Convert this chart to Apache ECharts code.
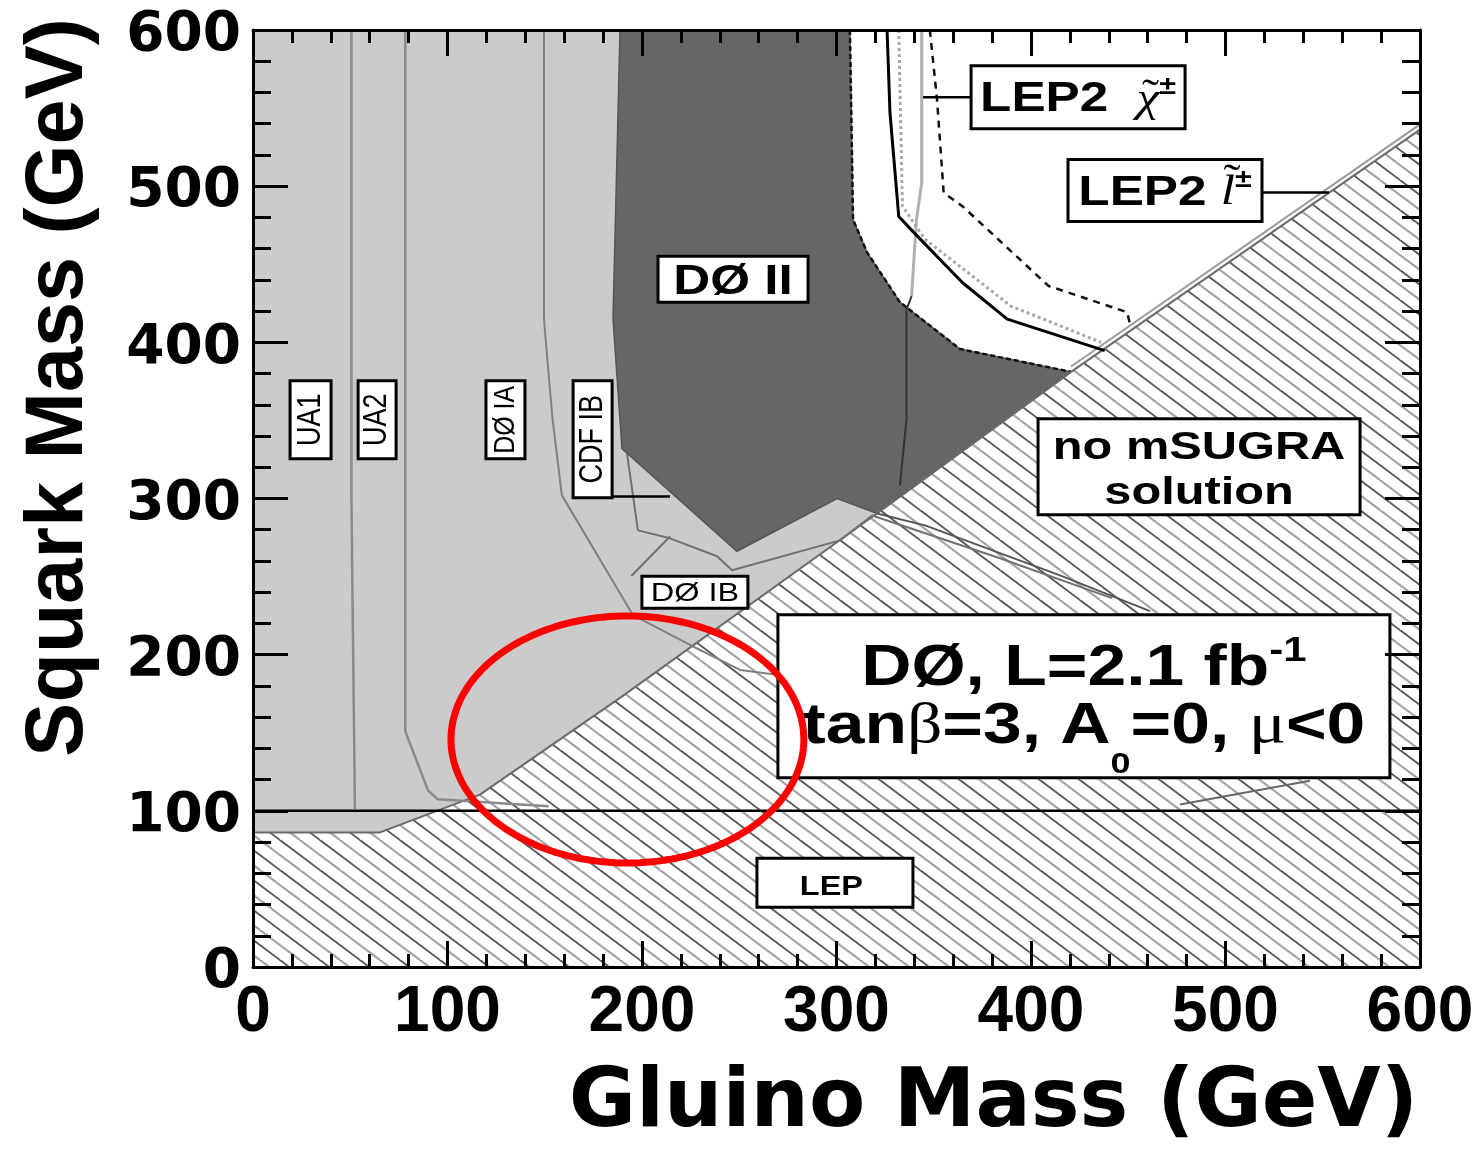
<!DOCTYPE html>
<html>
<head>
<meta charset="utf-8">
<title>mSUGRA squark-gluino mass limits</title>
<script src="https://cdn.jsdelivr.net/npm/echarts@6.0.0/dist/echarts.min.js"></script>
<style>
html,body{margin:0;padding:0;background:#ffffff;}
#chart{width:1481px;height:1151px;}
</style>
</head>
<body>
<div id="chart"></div>
<script>
// ================= DATA (GeV) =================
const gluinoTicks = [0, 100, 200, 300, 400, 500, 600];
const squarkTicks = [0, 100, 200, 300, 400, 500, 600];

// Light grey: region excluded by earlier experiments
const priorExclGluino = [0, 0, 65.3, 116.7, 188.7, 320.8, 250.0, 188.7];
const priorExclSquark = [600, 86.2, 86.2, 110.4, 172.3, 290.4, 450.0, 600];

// Dark grey: DØ Run II exclusion
const d0RunIIGluino = [188.7, 306.9, 308.5, 315.7, 332.6, 363.5, 420.6, 320.8, 300.3, 248.8, 189.7, 185.1];
const d0RunIISquark = [600, 600, 478.7, 457.6, 425.7, 395.7, 381.1, 290.4, 300.0, 266.2, 331.9, 414.9];

// Hatched: no mSUGRA solution / LEP
const noSolutionGluino = [0, 0, 65.3, 116.7, 188.7, 320.8, 420.6, 600, 600];
const noSolutionSquark = [0, 86.2, 86.2, 110.4, 172.3, 290.4, 381.1, 536.2, 0];
const noSolEdgeGluino = [0, 65.3, 116.7, 188.7, 320.8, 420.6, 600];
const noSolEdgeSquark = [86.2, 86.2, 110.4, 172.3, 290.4, 381.1, 536.2];

// LEP2 slepton limit (parallel to the boundary)
const lep2SleptonGluino = [420.6, 600];
const lep2SleptonSquark = [384.5, 539.6];

// Older contours
const ua1Gluino = [50.6, 50.6, 52.4];
const ua1Squark = [600, 300, 101];
const ua2Gluino = [78.3, 78.3, 90.0, 95.0, 152.0];
const ua2Squark = [600, 151.0, 113.0, 107.4, 103.0];
const d0IAGluino = [149.6, 149.6, 151.0, 154.0, 158.8, 195.4, 224.7, 250.4, 270.4];
const d0IASquark = [600, 415.0, 394.0, 351.0, 302.0, 225.3, 206.2, 190.2, 187.0];
const cdfIBGluino = [192.3, 197.9, 214.4, 238.6, 246.3, 301.8, 318.3, 384.1, 441.6];
const cdfIBSquark = [328.7, 279.6, 274.5, 263.0, 254.0, 273.2, 289.1, 261.7, 236.2];
const d0IBGluino = [320.8, 345.5, 414.9, 461.2];
const d0IBSquark = [290.4, 282.8, 250.8, 227.9];
const lowContourGluino = [476.6, 543.4];
const lowContourSquark = [104.0, 119.3];

// LEP2 chargino limits
const lep2CharSolidGluino = [326.0, 327.5, 332.0, 339.7, 364.7, 387.8, 437.9];
const lep2CharSolidSquark = [600, 547.0, 480.6, 470.4, 438.3, 414.9, 394.7];
const lep2CharDotGluino = [332.0, 333.9, 345.5, 389.7, 436.0];
const lep2CharDotSquark = [600, 487.2, 466.0, 423.2, 400.0];
const lep2CharDashGluino = [348.0, 351.7, 355.1, 364.7, 409.0, 449.4, 450.9];
const lep2CharDashSquark = [600, 555.3, 495.7, 487.2, 436.1, 419.3, 411.7];
const lep2GreyGluino = [343.8, 343.8, 341.1, 338.6];
const lep2GreySquark = [600, 502.0, 478.7, 429.6];
const lep2GreyDarkGluino = [338.6, 336.0, 336.0, 332.6];
const lep2GreyDarkSquark = [429.6, 421.0, 351.0, 308.3];

// LEP squark limit
const lepLimitGluino = [0, 600];
const lepLimitSquark = [100, 100];

// Label connectors
const cdfConnGluino = [184.6, 214.4];
const cdfConnSquark = [301.3, 301.3];
const d0IBArrowGluino = [194.5, 214.4];
const d0IBArrowSquark = [250.4, 275.7];
const lep2CharConnGluino = [344.5, 369.2];
const lep2CharConnSquark = [557.0, 557.0];
const lep2SlepConnGluino = [518.8, 553.2];
const lep2SlepConnSquark = [496.0, 496.0];

// Red highlight ellipse (centre and half-axes, GeV)
const highlightCenter = [192.5, 145.7];
const highlightRadius = [90.7, 79.1];

// Labels (anchor = box centre, GeV)
// markup: {^x} superscript, {_x} subscript, {~x} symbol, {*x} italic, {=x} accent over previous, {+x} raised accent
const labelTexts = ['UA1', 'UA2', 'DØ IA', 'CDF IB', 'DØ IB', 'DØ II',
  'LEP2  {*χ}{=˜}{^±}', 'LEP2 {*l}{+˜}{^±}', 'no mSUGRA\nsolution', 'LEP',
  'DØ, L=2.1 fb{^-1}\ntan{~β}=3, A{_0}=0, {~μ}<0'];
const labelGluino = [29.6, 63.8, 129.8, 174.6, 227.2, 246.8, 424.2, 468.9, 486.4, 299.2, 427.2];
const labelSquark = [350.4, 350.4, 350.4, 337.9, 240.0, 440.4, 556.9, 497.2, 320.4, 53.9, 173.3];

// ================= STYLE =================
const FAM = "'Liberation Sans', Arial, sans-serif";
const SERIF = "'Liberation Serif', 'DejaVu Serif', serif";
const labelStyles = [
  {w: 78, h: 41, rot: 90, size: 27, weight: 'normal', sx: 1, sy: 1.2},
  {w: 78, h: 38, rot: 90, size: 27, weight: 'normal', sx: 1, sy: 1.2},
  {w: 78, h: 39, rot: 90, size: 25, weight: 'normal', sx: 1, sy: 1.2},
  {w: 117, h: 39, rot: 90, size: 27, weight: 'normal', sx: 1, sy: 1.2},
  {w: 106, h: 32, size: 26, weight: 'normal', sx: 1.25, dy: 2},
  {w: 150, h: 46, size: 42, weight: 'bold', sx: 1.22, dy: 3},
  {w: 214, h: 63, size: 42, weight: 'bold', sx: 1.22, dy: 2.5},
  {w: 194, h: 62, size: 42, weight: 'bold', sx: 1.22, dy: 2.5},
  {w: 322, h: 96, size: 39, weight: 'bold', sx: 1.25, lh: 45, dy: 4},
  {w: 156, h: 49, size: 28, weight: 'bold', sx: 1.16, dy: 4.5, dx: -3.5},
  {w: 612, h: 163, size: 58, weight: 'bold', sx: 1.2, lh: 57.5, dy: 1.75}
];

function zip(xs, ys) { return xs.map((x, i) => [x, ys[i]]); }

function makeHatch() {
  const c = document.createElement('canvas');
  c.width = 40; c.height = 30;
  const g = c.getContext('2d');
  g.fillStyle = '#ffffff';
  g.fillRect(0, 0, 40, 30);
  const fam = (x0, color, w) => {
    g.strokeStyle = color; g.lineWidth = w;
    for (let k = -2; k <= 2; k++) {
      g.beginPath();
      g.moveTo(x0 + 40 * k - 40, -30);
      g.lineTo(x0 + 40 * k + 40, 30);
      g.stroke();
    }
  };
  fam(0, '#555555', 1.8);
  fam(20, '#a6a6a6', 2.2);
  return c;
}
const hatchCanvas = makeHatch();

function polygonSeries(name, xs, ys, style, z) {
  return {
    type: 'custom', name, z, silent: true, animation: false,
    data: zip(xs, ys),
    renderItem: function (params, api) {
      if (params.dataIndex !== 0) return null;
      const pts = xs.map((x, i) => api.coord([x, ys[i]]));
      return {type: 'polygon', shape: {points: pts}, style: style};
    }
  };
}

function lineSeries(name, xs, ys, color, width, type, z) {
  return {
    type: 'line', name, data: zip(xs, ys), symbol: 'none', silent: true,
    animation: false, z: z || 4,
    lineStyle: {color: color, width: width, type: type || 'solid'}
  };
}

const mctx = document.createElement('canvas').getContext('2d');
function parseRuns(line) {
  const runs = []; const re = /\{([\^_~*=+])([^}]*)\}/g; let last = 0, m;
  while ((m = re.exec(line))) {
    if (m.index > last) runs.push({k: 'n', t: line.slice(last, m.index)});
    runs.push({k: m[1], t: m[2]});
    last = re.lastIndex;
  }
  if (last < line.length) runs.push({k: 'n', t: line.slice(last)});
  return runs;
}
function runFont(st, k) {
  const b = st.size;
  if (k === '^') return {font: st.weight + ' ' + Math.round(b * 0.6) + 'px ' + FAM, dy: -0.311 * b};
  if (k === '_') return {font: st.weight + ' ' + Math.round(b * 0.52) + 'px ' + FAM, dy: 0.647 * b};
  if (k === '~') return {font: 'normal ' + b + 'px ' + SERIF, dy: 0};
  if (k === '*') return {font: 'italic normal ' + b + 'px ' + SERIF, dy: 0};
  if (k === '=') return {font: 'normal ' + b + 'px ' + SERIF, dy: -0.06 * b, accent: true, shift: 0.06 * b};
  if (k === '+') return {font: 'normal ' + b + 'px ' + SERIF, dy: -0.26 * b, accent: true, shift: 0.1 * b};
  return {font: st.weight + ' ' + b + 'px ' + FAM, dy: 0};
}
function buildText(text, st) {
  const lines = text.split('\n');
  const n = lines.length;
  const out = [];
  lines.forEach((ln, li) => {
    const runs = parseRuns(ln).map(r => {
      const f = runFont(st, r.k);
      mctx.font = f.font;
      return {t: r.t, font: f.font, dy: f.dy, accent: !!f.accent, shift: f.shift || 0,
        w: mctx.measureText(r.t).width * st.sx};
    });
    const W = runs.reduce((a, r) => a + (r.accent ? 0 : r.w), 0);
    let x = -W / 2 + (st.dx || 0);
    let prevX = x, prevW = 0;
    const yc = (li - (n - 1) / 2) * (st.lh || 0) + (st.dy || 0);
    runs.forEach(r => {
      let px = x;
      if (r.accent) px = prevX + prevW / 2 - r.w / 2 + r.shift;
      out.push({
        type: 'text', x: px, y: yc + r.dy, scaleX: st.sx, scaleY: st.sy || 1,
        style: {text: r.t, font: r.font, fill: '#000', align: 'left', verticalAlign: 'middle'}
      });
      if (!r.accent) { prevX = x; prevW = r.w; x += r.w; }
    });
  });
  return out;
}

const tickStyle = {color: '#000', width: 3};
function xAxisCfg(pos, showLabel) {
  return {
    type: 'value', position: pos, min: gluinoTicks[0], max: gluinoTicks[gluinoTicks.length - 1],
    interval: gluinoTicks[1] - gluinoTicks[0], z: 10,
    axisLine: {show: true, onZero: false, lineStyle: {color: '#000', width: 3}},
    axisTick: {show: true, inside: true, length: 26, lineStyle: tickStyle},
    minorTick: {show: true, splitNumber: 5, length: 13, lineStyle: tickStyle},
    splitLine: {show: false}, minorSplitLine: {show: false},
    axisLabel: {show: showLabel, fontFamily: FAM, fontWeight: 'bold', fontSize: 64, color: '#000', margin: 14},
    name: showLabel ? 'Gluino Mass (GeV)' : '',
    nameLocation: 'middle', nameGap: 97,
    nameTextStyle: {fontFamily: "'DejaVu Sans'", fontWeight: 'bold', fontSize: 82, color: '#000', padding: [0, 0, 0, 314]}
  };
}
function yAxisCfg(pos, showLabel) {
  return {
    type: 'value', position: pos, min: squarkTicks[0], max: squarkTicks[squarkTicks.length - 1],
    interval: squarkTicks[1] - squarkTicks[0], z: 10,
    axisLine: {show: true, onZero: false, lineStyle: {color: '#000', width: 3}},
    axisTick: {show: true, inside: true, length: 35, lineStyle: tickStyle},
    minorTick: {show: true, splitNumber: 5, length: 18, lineStyle: tickStyle},
    splitLine: {show: false}, minorSplitLine: {show: false},
    axisLabel: {show: showLabel, fontFamily: "'DejaVu Sans'", fontWeight: 'bold', fontSize: 55, color: '#000', margin: 12,
      verticalAlign: 'top', lineHeight: 12},
    name: showLabel ? 'Squark Mass (GeV)' : '',
    nameLocation: 'middle', nameGap: 153,
    nameTextStyle: {fontFamily: FAM, fontWeight: 'bold', fontSize: 81, color: '#000', padding: [0, 0, 0, 222]}
  };
}

const series = [
  polygonSeries('Earlier exclusions', priorExclGluino, priorExclSquark, {fill: '#cbcbcb'}, 1),
  polygonSeries('No mSUGRA solution', noSolutionGluino, noSolutionSquark, {fill: {image: hatchCanvas, repeat: 'repeat'}}, 2),
  polygonSeries('DØ Run II', d0RunIIGluino, d0RunIISquark, {fill: '#666666', stroke: '#555555', lineWidth: 1.5}, 3),
  lineSeries('DØ II edge', d0RunIIGluino.slice(1, 7), d0RunIISquark.slice(1, 7), '#111', 2.5, [5, 3], 4),
  lineSeries('Boundary', noSolEdgeGluino, noSolEdgeSquark, '#6a6a6a', 2, 'solid', 4),
  lineSeries('LEP2 slepton', lep2SleptonGluino, lep2SleptonSquark, '#9a9a9a', 2, 'solid', 4),
  lineSeries('UA1', ua1Gluino, ua1Squark, '#8a8a8a', 2.5, 'solid', 4),
  lineSeries('UA2', ua2Gluino, ua2Squark, '#8a8a8a', 2.5, 'solid', 4),
  lineSeries('DØ IA', d0IAGluino, d0IASquark, '#808080', 2, 'solid', 4),
  lineSeries('CDF IB', cdfIBGluino, cdfIBSquark, '#707070', 2, 'solid', 4),
  lineSeries('DØ IB', d0IBGluino, d0IBSquark, '#555555', 2, 'solid', 4),
  lineSeries('Low contour', lowContourGluino, lowContourSquark, '#666666', 2, 'solid', 4),
  lineSeries('LEP2 chargino (grey)', lep2GreyGluino, lep2GreySquark, '#b0b0b0', 3, 'solid', 4),
  lineSeries('LEP2 chargino (grey, dark)', lep2GreyDarkGluino, lep2GreyDarkSquark, '#333333', 2, 'solid', 4),
  lineSeries('LEP2 chargino (dotted)', lep2CharDotGluino, lep2CharDotSquark, '#a8a8a8', 3, [3, 3], 4),
  lineSeries('LEP2 chargino', lep2CharSolidGluino, lep2CharSolidSquark, '#000000', 3, 'solid', 5),
  lineSeries('LEP2 chargino (dashed)', lep2CharDashGluino, lep2CharDashSquark, '#111111', 2.5, [7, 6], 5),
  lineSeries('LEP limit', lepLimitGluino, lepLimitSquark, '#000000', 2.5, 'solid', 5),
  lineSeries('CDF connector', cdfConnGluino, cdfConnSquark, '#000000', 2.5, 'solid', 5),
  lineSeries('DØ IB arrow', d0IBArrowGluino, d0IBArrowSquark, '#707070', 2, 'solid', 5),
  lineSeries('LEP2 chargino connector', lep2CharConnGluino, lep2CharConnSquark, '#000000', 2.5, 'solid', 5),
  lineSeries('LEP2 slepton connector', lep2SlepConnGluino, lep2SlepConnSquark, '#000000', 2.5, 'solid', 5),
  {
    type: 'custom', name: 'Labels', z: 6, silent: true, animation: false,
    data: zip(labelGluino, labelSquark),
    renderItem: function (params, api) {
      const i = params.dataIndex;
      const st = labelStyles[i];
      const p = api.coord([api.value(0), api.value(1)]);
      const children = [{
        type: 'rect', shape: {x: -st.w / 2, y: -st.h / 2, width: st.w, height: st.h},
        style: {fill: '#ffffff', stroke: '#000000', lineWidth: 3}
      }].concat(buildText(labelTexts[i], st));
      return {type: 'group', x: p[0], y: p[1], rotation: (st.rot || 0) * Math.PI / 180, children: children};
    }
  },
  {
    type: 'custom', name: 'Highlight', z: 7, silent: true, animation: false,
    data: [highlightCenter],
    renderItem: function (params, api) {
      const c = api.coord([api.value(0), api.value(1)]);
      const s = api.size(highlightRadius);
      const pts = [];
      for (let k = 0; k < 180; k++) {
        const a = k / 180 * Math.PI * 2;
        pts.push([c[0] + s[0] * Math.cos(a), c[1] + s[1] * Math.sin(a)]);
      }
      return {type: 'polygon', shape: {points: pts}, style: {fill: 'none', stroke: '#ff0000', lineWidth: 7}};
    }
  }
];

const chart = echarts.init(document.getElementById('chart'), null, {renderer: 'canvas'});
chart.setOption({
  backgroundColor: '#ffffff',
  animation: false,
  grid: {left: 253, right: 61, top: 30, bottom: 181, containLabel: false},
  xAxis: [xAxisCfg('bottom', true), xAxisCfg('top', false)],
  yAxis: [yAxisCfg('left', true), yAxisCfg('right', false)],
  series: series
});
</script>
</body>
</html>
